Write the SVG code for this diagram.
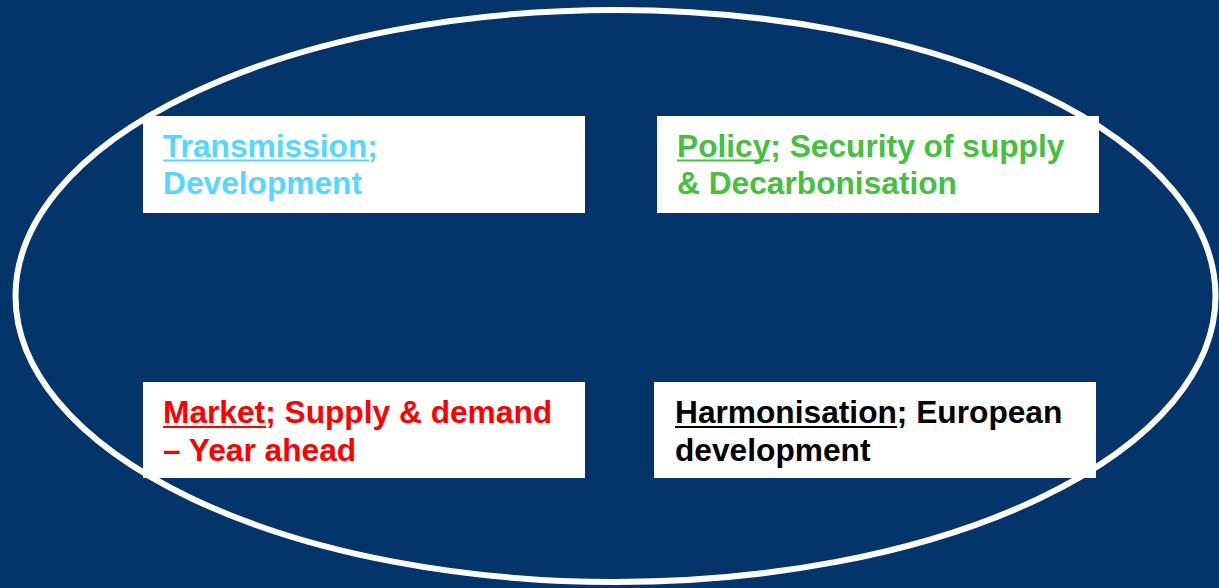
<svg xmlns="http://www.w3.org/2000/svg" width="1219" height="588" viewBox="0 0 1219 588">
<style>
.bg{fill:#03346A}
.ring{fill:none;stroke:#FFFFFF;stroke-width:6}
.box{fill:#FFFFFF}
.t{font-family:"Liberation Sans",Arial,sans-serif;font-weight:bold;font-size:31.7px}
.ul{stroke-width:2.2}
.cyan{fill:#55D8FF}
.green{fill:#45C03F}
.red{fill:#FF0000}
.black{fill:#000000}
</style>
<rect class="bg" x="0" y="0" width="1219" height="588"/>
<g id="connectors"></g>
<g id="node-transmission">
<rect class="box" x="143" y="116" width="442" height="97"/>
<text class="t cyan" x="163" y="157">Transmission;</text>
<line class="ul" x1="163" y1="160.5" x2="369" y2="160.5" stroke="#55D8FF"/>
<text class="t cyan" x="163" y="194">Development</text>
</g>
<g id="node-policy">
<rect class="box" x="657" y="116" width="442" height="97"/>
<text class="t green" x="677" y="157">Policy; Security of supply</text>
<line class="ul" x1="677" y1="160.5" x2="770" y2="160.5" stroke="#45C03F"/>
<text class="t green" x="677" y="194">&amp; Decarbonisation</text>
</g>
<g id="node-market">
<rect class="box" x="143" y="382" width="442" height="96"/>
<text class="t red" x="163" y="423">Market; Supply &amp; demand</text>
<line class="ul" x1="163" y1="427" x2="266" y2="427" stroke="#FF0000"/>
<text class="t red" x="163" y="461">– Year ahead</text>
</g>
<g id="node-harmonisation">
<rect class="box" x="654" y="382" width="442" height="96"/>
<text class="t black" x="675" y="423">Harmonisation; European</text>
<line class="ul" x1="675" y1="427" x2="897" y2="427" stroke="#000000"/>
<text class="t black" x="675" y="461">development</text>
</g>
<g id="ellipse">
<ellipse class="ring" cx="615.5" cy="296" rx="600" ry="286"/>
</g>
</svg>
